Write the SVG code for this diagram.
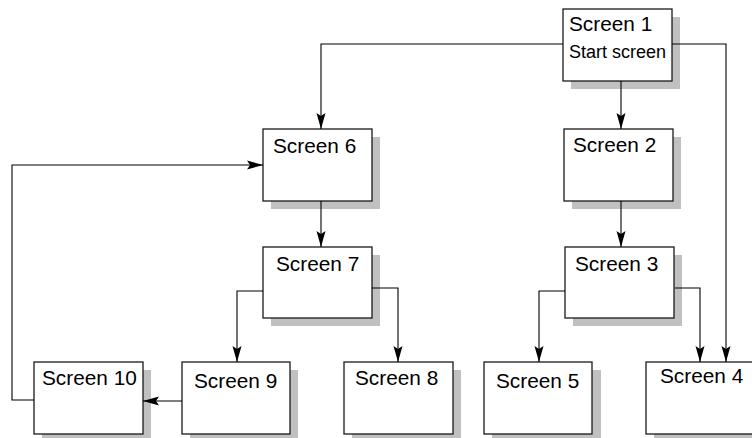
<svg xmlns="http://www.w3.org/2000/svg" width="752" height="438" viewBox="0 0 752 438">
<style>
.sh{fill:#c0c0c0;stroke:none}
.bx{fill:#fff;stroke:#1a1a1a;stroke-width:1.3}
.t{font-family:"Liberation Sans",Arial,sans-serif;font-size:20.8px;fill:#000}
.s{font-family:"Liberation Sans",Arial,sans-serif;font-size:18px;fill:#000}
.c{fill:none;stroke:#000;stroke-width:1.1}
</style>
<defs>
<marker id="a" markerUnits="userSpaceOnUse" markerWidth="18" markerHeight="12" refX="16" refY="5" orient="auto">
<path d="M0,0.5 L16,5 L0,9.5 L3,5 Z" fill="#000"/>
</marker>
</defs>
<rect width="752" height="438" fill="#fff"/>
<g id="screen1">
<rect class="sh" x="571" y="17" width="109" height="72"/>
<rect class="bx" x="563" y="9" width="109" height="72"/>
<text class="t" x="569" y="31">Screen 1</text>
<text class="s" x="569" y="58">Start screen</text>
</g>
<g id="screen2">
<rect class="sh" x="572" y="137" width="109" height="72"/>
<rect class="bx" x="564" y="129" width="109" height="72"/>
<text class="t" x="573" y="152">Screen 2</text>
</g>
<g id="screen3">
<rect class="sh" x="573" y="255" width="109" height="71"/>
<rect class="bx" x="565" y="247" width="109" height="71"/>
<text class="t" x="575" y="271">Screen 3</text>
</g>
<g id="screen4">
<rect class="sh" x="654" y="370" width="109" height="72"/>
<rect class="bx" x="646" y="362" width="109" height="72"/>
<text class="t" x="660" y="383">Screen 4</text>
</g>
<g id="screen5">
<rect class="sh" x="492" y="370" width="109" height="72"/>
<rect class="bx" x="484" y="362" width="108" height="72"/>
<text class="t" x="496" y="388">Screen 5</text>
</g>
<g id="screen6">
<rect class="sh" x="271" y="137" width="109" height="72"/>
<rect class="bx" x="263" y="129" width="109" height="72"/>
<text class="t" x="273" y="153">Screen 6</text>
</g>
<g id="screen7">
<rect class="sh" x="271" y="255" width="109" height="71"/>
<rect class="bx" x="263" y="247" width="109" height="71"/>
<text class="t" x="276" y="271">Screen 7</text>
</g>
<g id="screen8">
<rect class="sh" x="352" y="370" width="109" height="72"/>
<rect class="bx" x="344" y="362" width="109" height="72"/>
<text class="t" x="355" y="385">Screen 8</text>
</g>
<g id="screen9">
<rect class="sh" x="190" y="370" width="108" height="72"/>
<rect class="bx" x="182" y="362" width="108" height="72"/>
<text class="t" x="194" y="388">Screen 9</text>
</g>
<g id="screen10">
<rect class="sh" x="42" y="370" width="109" height="72"/>
<rect class="bx" x="34" y="362" width="109" height="72"/>
<text class="t" x="42" y="385">Screen 10</text>
</g>
<g id="connectors">
<path class="c" d="M563,44 H321 V129" marker-end="url(#a)"/>
<path class="c" d="M621,81 V129" marker-end="url(#a)"/>
<path class="c" d="M672,44 H726 V362" marker-end="url(#a)"/>
<path class="c" d="M621,201 V247" marker-end="url(#a)"/>
<path class="c" d="M565,291 H539 V362" marker-end="url(#a)"/>
<path class="c" d="M675,288 H700 V362" marker-end="url(#a)"/>
<path class="c" d="M321,201 V247" marker-end="url(#a)"/>
<path class="c" d="M263,291 H237 V362" marker-end="url(#a)"/>
<path class="c" d="M372,288 H398 V362" marker-end="url(#a)"/>
<path class="c" d="M182,401 H143" marker-end="url(#a)"/>
<path class="c" d="M34,400 H12 V165 H263" marker-end="url(#a)"/>
</g>
</svg>
